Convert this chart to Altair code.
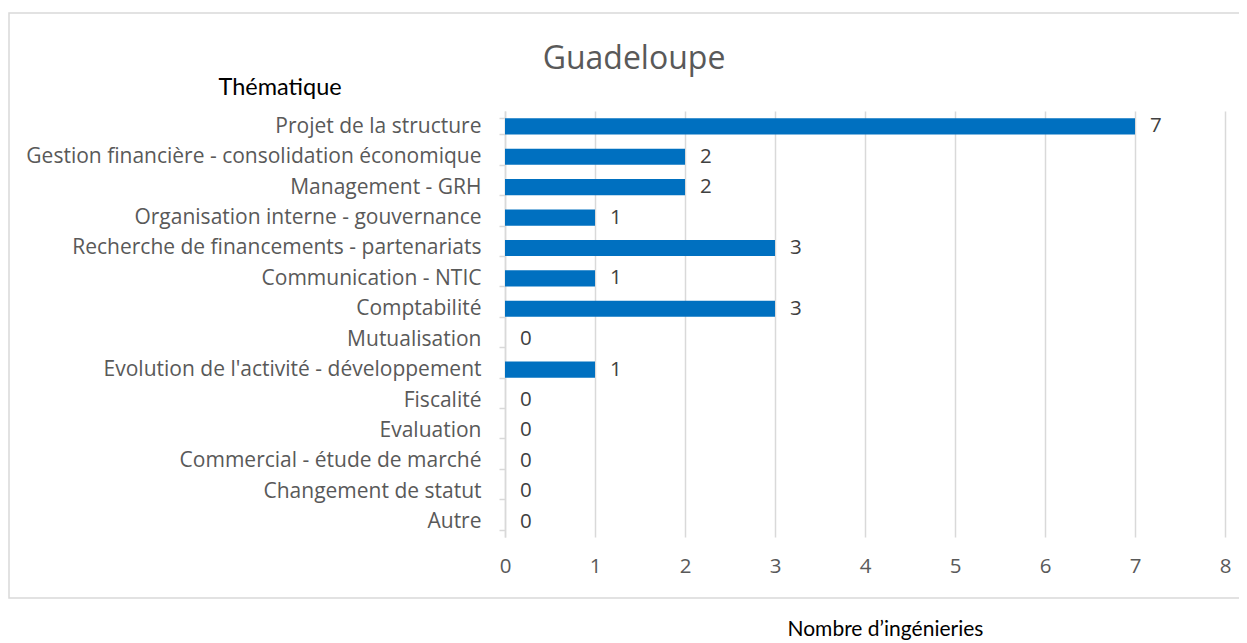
import altair as alt
import pandas as pd

categories = [
    "Projet de la structure",
    "Gestion financière - consolidation économique",
    "Management - GRH",
    "Organisation interne - gouvernance",
    "Recherche de financements - partenariats",
    "Communication - NTIC",
    "Comptabilité",
    "Mutualisation",
    "Evolution de l'activité - développement",
    "Fiscalité",
    "Evaluation",
    "Commercial - étude de marché",
    "Changement de statut",
    "Autre",
]
values = [7, 2, 2, 1, 3, 1, 3, 0, 1, 0, 0, 0, 0, 0]
x_ticks = [0, 1, 2, 3, 4, 5, 6, 7, 8]
chart_title = "Guadeloupe"
y_title = "Thématique"
x_title = "Nombre d’ingénieries"

df = pd.DataFrame({"cat": categories, "val": values})

W, H = 720, 426
LABEL_FONT = "Open Sans"
AXIS_TITLE_FONT = "Lato"

base = alt.Chart(df)

y_enc = alt.Y(
    "cat:N",
    sort=categories,
    scale=alt.Scale(paddingInner=0.47, paddingOuter=0.24),
    axis=alt.Axis(
        title=y_title,
        titleAngle=0,
        titleAlign="left",
        titleBaseline="alphabetic",
        titleX=-287,
        titleY=-17,
        titleFont=AXIS_TITLE_FONT,
        titleFontSize=23.5,
        titleFontWeight="normal",
        titleColor="#000000",
        labelFont=LABEL_FONT,
        labelFontSize=21,
        labelColor="#595959",
        labelPadding=18,
        labelLimit=600,
        tickBand="extent",
        tickSize=6,
        tickColor="#d9d9d9",
        domainColor="#d9d9d9",
        domainWidth=1.5,
        tickWidth=1.5,
        grid=False,
    ),
)

x_enc = alt.X(
    "val:Q",
    scale=alt.Scale(domain=[0, 8], nice=False),
    axis=alt.Axis(
        values=x_ticks,
        title=x_title,
        titleAlign="left",
        titleBaseline="alphabetic",
        titleX=282,
        titleY=98,
        titleFont=AXIS_TITLE_FONT,
        titleFontSize=21,
        titleFontWeight="normal",
        titleColor="#000000",
        labelFont=LABEL_FONT,
        labelFontSize=20.5,
        labelColor="#595959",
        labelPadding=19,
        labelFlush=False,
        ticks=False,
        domain=False,
        grid=True,
        gridColor="#d9d9d9",
        gridWidth=1.5,
        format="d",
    ),
)

frame = alt.Chart(pd.DataFrame({"f": [0]})).mark_rect(
    fillOpacity=0, stroke="#d9d9d9", strokeWidth=1.5
).encode(
    x=alt.value(-496), x2=alt.value(741), y=alt.value(-98), y2=alt.value(487)
)

bars = base.mark_bar(color="#0070C0").encode(x=x_enc, y=y_enc)

labels = base.mark_text(
    align="left", baseline="middle", dx=15, font=LABEL_FONT, fontSize=20.5, color="#404040"
).encode(x="val:Q", y=alt.Y("cat:N", sort=categories), text="val:Q")

title = alt.Chart(pd.DataFrame({"t": [chart_title]})).mark_text(
    align="center", baseline="alphabetic", font=LABEL_FONT, fontSize=32, color="#595959"
).encode(text="t:N", x=alt.value(129), y=alt.value(-42))

chart = alt.layer(frame, bars, labels, title).properties(
    width=W,
    height=H,
    autosize=alt.AutoSizeParams(type="none"),
    padding={"left": 497, "top": 103, "right": 14, "bottom": 104},
).configure_view(stroke=None)

chart.save("out.html", embed_options={"renderer": "svg", "actions": False})
